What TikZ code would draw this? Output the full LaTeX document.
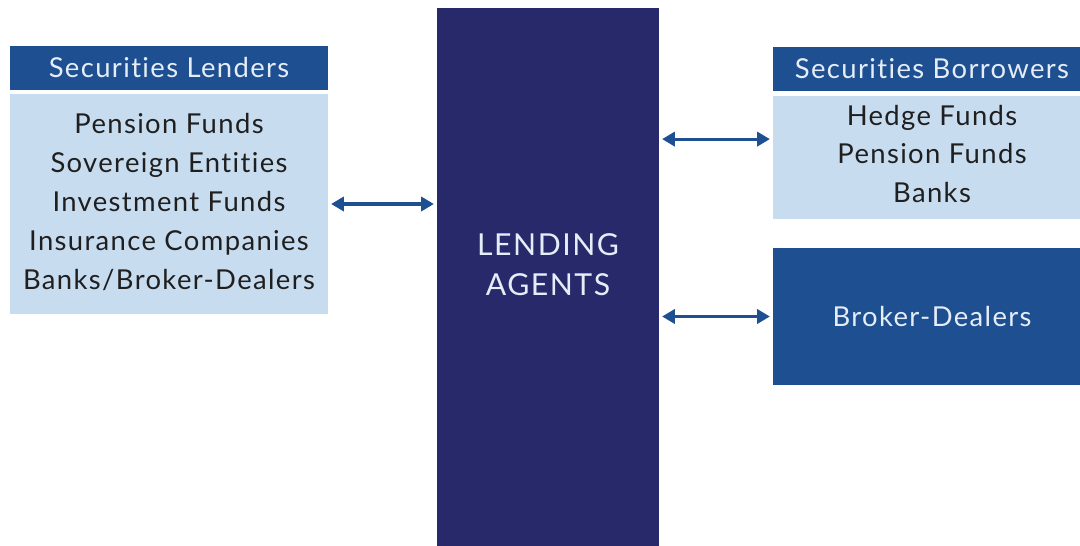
\documentclass[tikz,border=0pt]{standalone}
\usepackage{fontspec}
\setmainfont{Lato}[Ligatures=NoCommon,LetterSpace=5]
\usetikzlibrary{arrows.meta,positioning}
\definecolor{hdblue}{HTML}{1D4F91}
\definecolor{pale}{HTML}{C8DCF0}
\definecolor{navy}{HTML}{27296B}
\definecolor{hdtext}{HTML}{E4EDF8}
\begin{document}
\begin{tikzpicture}[x=0.025cm,y=-0.025cm,>={Triangle[width=10pt,length=9pt]},
    head/.style={fill=hdblue,text=hdtext,minimum width=7.95cm,minimum height=1.1cm,
      inner sep=0pt,font=\fontsize{19.5}{23}\selectfont},
    body/.style={fill=pale,minimum width=7.95cm,inner sep=0pt},
    list/.style={text=black!88,align=center,font=\fontsize{19.5}{27.7}\selectfont},
    link/.style={<->,draw=hdblue,line width=2.2pt,shorten <=2pt,shorten >=2pt}]
    \useasboundingbox (0,0) rectangle (1080,546);
    \clip (0,0) rectangle (1080,546);
    \node[head] (lendhead) at (169,68) {Securities Lenders};
    \node[body,minimum height=5.5cm] (lendbody) at (169,204) {};
    \node[list] (lendlist) at (169,202)
      {Pension Funds\\Sovereign Entities\\Investment Funds\\Insurance Companies\\Banks/Broker-Dealers};
    \node[fill=navy,minimum width=5.55cm,minimum height=13.45cm,inner sep=0pt] (agents) at (548,277) {};
    \node[text=hdtext,align=center,font=\fontsize{21.5}{28.5}\selectfont] (agentstext) at (548,265)
      {LENDING\\AGENTS};
    \node[head] (borrhead) at (932,69) {Securities Borrowers};
    \node[body,minimum height=3.075cm] (borrbody) at (932,157.5) {};
    \node[list] (borrlist) at (932,154) {Hedge Funds\\Pension Funds\\Banks};
    \node[head,minimum height=3.425cm] (broker) at (932,316.5) {Broker-Dealers};
    \draw[link] (lendbody.east) -- (lendbody.east -| agents.west);
    \draw[link] ([yshift=0.46cm]borrbody.west -| agents.east) -- ([yshift=0.46cm]borrbody.west);
    \draw[link] (broker.west -| agents.east) -- (broker.west);
  \end{tikzpicture}
\end{document}
